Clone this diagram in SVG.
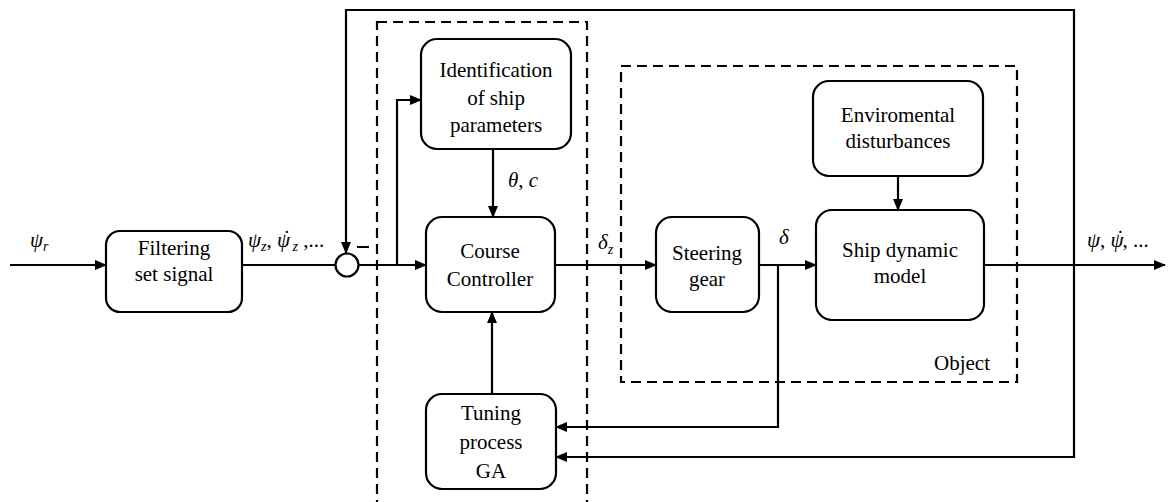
<svg xmlns="http://www.w3.org/2000/svg" width="1169" height="502" viewBox="0 0 1169 502">
<style>
.box{fill:#fff;stroke:#000;stroke-width:2.2}
text{font-family:'Liberation Serif','Times New Roman',Tinos,'Nimbus Roman','DejaVu Serif','Noto Serif',serif;font-size:21px;fill:#000}
.t{text-anchor:middle}
.m{font-style:italic}
.ln{fill:none;stroke:#000;stroke-width:2.2}
.dash{fill:none;stroke:#000;stroke-width:2.2;stroke-dasharray:10,6}
</style>
<defs>
<marker id="ar" markerWidth="12" markerHeight="10" refX="11" refY="5" orient="auto" markerUnits="userSpaceOnUse">
<path d="M0,0 L12,5 L0,10 Z" fill="#000"/>
</marker>
</defs>
<g id="groups">
<rect id="controller-region" x="377" y="22" width="210" height="490" class="dash"/>
<rect id="object-region" x="621" y="66" width="396" height="316" class="dash"/>
<text class="t" x="962" y="370">Object</text>
</g>
<g id="connectors">
<line class="ln" x1="10" y1="265" x2="106" y2="265" marker-end="url(#ar)"/>
<line class="ln" x1="242" y1="265" x2="335" y2="265"/>
<path class="ln" d="M359,265 H426" marker-end="url(#ar)"/>
<path class="ln" d="M397,265 V100 H421" marker-end="url(#ar)"/>
<path class="ln" d="M493,149 V217" marker-end="url(#ar)"/>
<path class="ln" d="M492,394 V312" marker-end="url(#ar)"/>
<path class="ln" d="M555,265 H656" marker-end="url(#ar)"/>
<path class="ln" d="M759,265 H816" marker-end="url(#ar)"/>
<path class="ln" d="M898,176 V210" marker-end="url(#ar)"/>
<path class="ln" d="M984,265 H1165" marker-end="url(#ar)"/>
<path class="ln" d="M778,265 V427 H556" marker-end="url(#ar)"/>
<path class="ln" d="M1074,265 V457 H556" marker-end="url(#ar)"/>
<path class="ln" d="M1074,265 V10 H346 V253" marker-end="url(#ar)"/>
</g>
<g id="sum">
<circle cx="347" cy="265" r="11.5" class="box"/>
<line x1="357" y1="247" x2="369" y2="247" stroke="#000" stroke-width="2"/>
</g>
<g id="filtering">
<rect x="106" y="231" width="136" height="81" rx="14" class="box"/>
<text class="t" x="174" y="255">Filtering</text>
<text class="t" x="174" y="281">set signal</text>
</g>
<g id="identification">
<rect x="421" y="39" width="150" height="110" rx="16" class="box"/>
<text class="t" x="496" y="77">Identification</text>
<text class="t" x="496" y="105">of ship</text>
<text class="t" x="496" y="132">parameters</text>
</g>
<g id="controller">
<rect x="426" y="217" width="129" height="95" rx="16" class="box"/>
<text class="t" x="490" y="258">Course</text>
<text class="t" x="490" y="286">Controller</text>
</g>
<g id="tuning">
<rect x="426" y="394" width="130" height="95" rx="16" class="box"/>
<text class="t" x="491" y="420">Tuning</text>
<text class="t" x="491" y="449">process</text>
<text class="t" x="491" y="478">GA</text>
</g>
<g id="steering">
<rect x="656" y="217" width="103" height="95" rx="16" class="box"/>
<text class="t" x="707" y="260">Steering</text>
<text class="t" x="707" y="286">gear</text>
</g>
<g id="ship">
<rect x="816" y="210" width="168" height="110" rx="16" class="box"/>
<text class="t" x="900" y="257">Ship dynamic</text>
<text class="t" x="900" y="283">model</text>
</g>
<g id="environment">
<rect x="813" y="81" width="170" height="95" rx="16" class="box"/>
<text class="t" x="898" y="122">Enviromental</text>
<text class="t" x="898" y="148">disturbances</text>
</g>
<g id="labels">
<text class="m" x="30" y="247">ψ<tspan font-size="14" dy="4">r</tspan></text>
<text class="m" x="248" y="247">ψ<tspan font-size="14" dy="4">z</tspan><tspan dy="-4" font-style="normal">, </tspan>ψ<tspan dx="-8" dy="-2">˙</tspan><tspan font-size="14" dy="6"> z</tspan><tspan dy="-4" font-style="normal"> ,...</tspan></text>
<text class="m" x="508" y="187">θ<tspan font-style="normal">, </tspan>c</text>
<text class="m" x="598" y="249">δ<tspan font-size="14" dy="5">z</tspan></text>
<text class="m" x="779" y="244">δ</text>
<text class="m" x="1087" y="247">ψ<tspan font-style="normal">, </tspan>ψ<tspan dx="-8" dy="-2">˙</tspan><tspan dy="2" font-style="normal">, ...</tspan></text>
</g>
</svg>
